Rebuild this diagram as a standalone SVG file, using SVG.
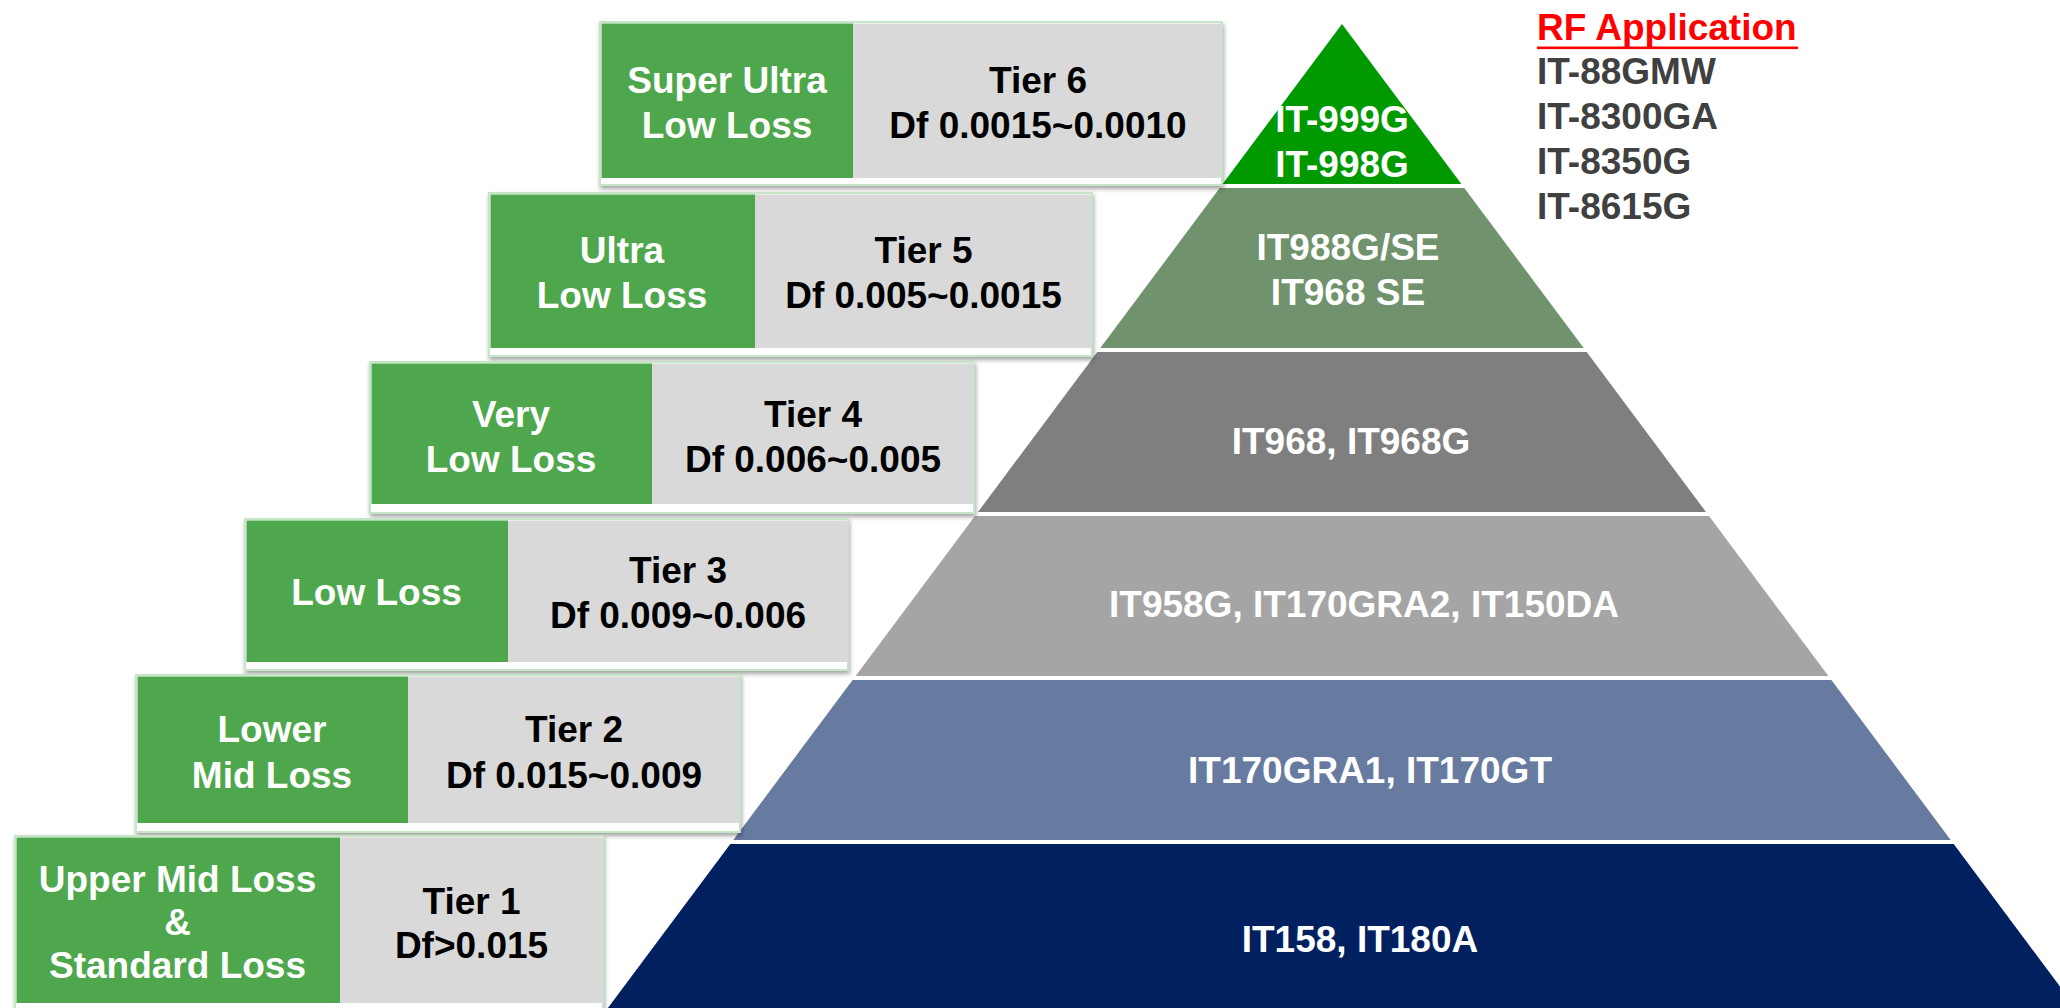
<svg xmlns="http://www.w3.org/2000/svg" width="2060" height="1008" viewBox="0 0 2060 1008">
<defs>
<filter id="sh" x="-5%" y="-5%" width="110%" height="120%">
<feDropShadow dx="1" dy="3" stdDeviation="2" flood-color="#000" flood-opacity="0.35"/>
</filter>
<style>
text{font-family:"Liberation Sans",Arial,sans-serif;font-weight:bold;font-size:37px;text-anchor:middle}
.w{fill:#ffffff}
.k{fill:#000000}
.outer{fill:#ffffff;stroke:#c6e4c6;stroke-width:2}
.grn{fill:#4ea74c}
.gry{fill:#d9d9d9}
.rf{fill:#404040;text-anchor:start}
</style>
</defs>
<rect width="2060" height="1008" fill="#ffffff"/>

<g id="pyramid">
<g id="band1"><polygon points="1342,24 1461.4,184 1222.6,184" fill="#009900"/>
<text class="w" x="1342" y="131.7">IT-999G</text><text class="w" x="1342" y="176.7">IT-998G</text></g>
<g id="band2"><polygon points="1219.7,188 1464.3,188 1583.7,348 1100.3,348" fill="#70936d"/>
<text class="w" x="1348" y="260">IT988G/SE</text><text class="w" x="1348" y="305">IT968 SE</text></g>
<g id="band3"><polygon points="1097.3,352 1586.7,352 1706,512 978,512" fill="#7f7f7f"/>
<text class="w" x="1351" y="454">IT968, IT968G</text></g>
<g id="band4"><polygon points="975,516 1709,516 1828.4,676 855.6,676" fill="#a5a5a5"/>
<text class="w" x="1364" y="617">IT958G, IT170GRA2, IT150DA</text></g>
<g id="band5"><polygon points="852.6,680 1831.4,680 1950.7,840 733.3,840" fill="#677aa0"/>
<text class="w" x="1370" y="783">IT170GRA1, IT170GT</text></g>
<g id="band6"><polygon points="730.3,844 1953.7,844 2076,1008 607.9,1008" fill="#002060"/>
<text class="w" x="1360" y="952">IT158, IT180A</text></g>
</g>

<g id="tier6">
<rect class="outer" x="600" y="22" width="622" height="163" filter="url(#sh)"/>
<rect class="grn" x="601.5" y="23.5" width="251.5" height="154.5"/>
<rect class="gry" x="853" y="23.5" width="368" height="154.5"/>
<text class="w" x="727" y="92.7">Super Ultra</text><text class="w" x="727" y="138.3">Low Loss</text>
<text class="k" x="1038" y="92.7">Tier 6</text><text class="k" x="1038" y="138.3">Df 0.0015~0.0010</text>
</g>

<g id="tier5">
<rect class="outer" x="489" y="193" width="603" height="163" filter="url(#sh)"/>
<rect class="grn" x="490.5" y="194.5" width="264.5" height="153.5"/>
<rect class="gry" x="755" y="194.5" width="336" height="153.5"/>
<text class="w" x="622" y="263">Ultra</text><text class="w" x="622" y="308">Low Loss</text>
<text class="k" x="923.5" y="263">Tier 5</text><text class="k" x="923.5" y="308">Df 0.005~0.0015</text>
</g>

<g id="tier4">
<rect class="outer" x="370" y="362" width="604" height="151" filter="url(#sh)"/>
<rect class="grn" x="371.5" y="363.5" width="280.5" height="140.5"/>
<rect class="gry" x="652" y="363.5" width="321" height="140.5"/>
<text class="w" x="511" y="426.7">Very</text><text class="w" x="511" y="471.7">Low Loss</text>
<text class="k" x="813" y="426.7">Tier 4</text><text class="k" x="813" y="471.7">Df 0.006~0.005</text>
</g>

<g id="tier3">
<rect class="outer" x="245" y="519" width="603" height="151" filter="url(#sh)"/>
<rect class="grn" x="246.5" y="520.5" width="261.5" height="141.5"/>
<rect class="gry" x="508" y="520.5" width="339" height="141.5"/>
<text class="w" x="376.5" y="605">Low Loss</text>
<text class="k" x="678" y="583.3">Tier 3</text><text class="k" x="678" y="628.3">Df 0.009~0.006</text>
</g>

<g id="tier2">
<rect class="outer" x="136" y="675" width="604" height="157" filter="url(#sh)"/>
<rect class="grn" x="137.5" y="676.5" width="270.5" height="146.5"/>
<rect class="gry" x="408" y="676.5" width="331" height="146.5"/>
<text class="w" x="272" y="741.7">Lower</text><text class="w" x="272" y="787.7">Mid Loss</text>
<text class="k" x="574" y="741.7">Tier 2</text><text class="k" x="574" y="787.7">Df 0.015~0.009</text>
</g>

<g id="tier1">
<rect class="outer" x="15" y="836" width="588" height="180" filter="url(#sh)"/>
<rect class="grn" x="16.5" y="837.5" width="323.5" height="165.5"/>
<rect class="gry" x="340" y="837.5" width="262" height="165.5"/>
<text class="w" x="177.5" y="891.7">Upper Mid Loss</text><text class="w" x="177.5" y="935">&amp;</text><text class="w" x="177.5" y="978.3">Standard Loss</text>
<text class="k" x="471.5" y="914.3">Tier 1</text><text class="k" x="471.5" y="958.3">Df&gt;0.015</text>
</g>

<g id="rf-application">
<text x="1537" y="40" fill="#ff0000" style="text-anchor:start">RF Application</text>
<rect x="1537" y="46.5" width="261" height="2.6" fill="#ff0000"/>
<text class="rf" x="1537" y="84">IT-88GMW</text>
<text class="rf" x="1537" y="129.3">IT-8300GA</text>
<text class="rf" x="1537" y="174">IT-8350G</text>
<text class="rf" x="1537" y="219">IT-8615G</text>
</g>
</svg>
